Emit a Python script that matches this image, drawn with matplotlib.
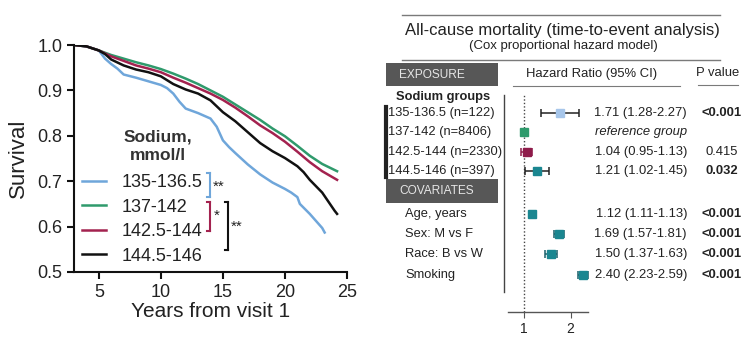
import matplotlib.pyplot as plt
import matplotlib.transforms as mtransforms
from matplotlib.lines import Line2D
from matplotlib.patches import Rectangle

plt.rcParams['font.family'] = ['Liberation Sans', 'DejaVu Sans']

# Kaplan-Meier style survival curves by sodium group
t_blue = [3, 4, 5, 5.5, 6, 6.5, 7, 8, 9, 10, 10.5, 11, 11.5, 12, 13, 14, 14.5, 15, 15.5, 16,
          17, 18, 19, 20, 20.5, 21, 21.2, 22, 23, 23.2]
s_blue = [1.0, 0.997, 0.988, 0.97, 0.958, 0.948, 0.935, 0.928, 0.92, 0.912, 0.905, 0.893, 0.875,
          0.86, 0.85, 0.838, 0.82, 0.79, 0.775, 0.762, 0.737, 0.715, 0.697, 0.683, 0.675, 0.665,
          0.65, 0.628, 0.597, 0.587]
t_green = [3, 4, 5, 6, 7, 8, 9, 10, 11, 12, 13, 14, 15, 16, 17, 18, 19, 20, 21, 22, 23, 24.2]
s_green = [1.0, 0.997, 0.988, 0.978, 0.97, 0.962, 0.955, 0.947, 0.937, 0.926, 0.914, 0.9, 0.886,
           0.869, 0.852, 0.835, 0.816, 0.799, 0.778, 0.756, 0.738, 0.722]
t_red = [3, 4, 5, 6, 7, 8, 9, 10, 11, 12, 13, 14, 15, 16, 17, 18, 19, 20, 21, 22, 23, 24.2]
s_red = [1.0, 0.997, 0.988, 0.975, 0.965, 0.955, 0.948, 0.94, 0.928, 0.917, 0.905, 0.893, 0.879,
         0.862, 0.843, 0.823, 0.806, 0.787, 0.765, 0.742, 0.722, 0.703]
t_black = [3, 4, 5, 5.5, 6, 7, 8, 9, 10, 11, 12, 13, 14, 15, 15.5, 16, 17, 18, 19, 20, 21, 21.5,
           22, 23, 23.5, 24, 24.2]
s_black = [1.0, 0.997, 0.988, 0.98, 0.968, 0.955, 0.946, 0.94, 0.931, 0.914, 0.902, 0.893, 0.878,
           0.852, 0.842, 0.832, 0.808, 0.784, 0.766, 0.751, 0.733, 0.72, 0.703, 0.675, 0.655,
           0.635, 0.628]
groups = ['135-136.5', '137-142', '142.5-144', '144.5-146']
colors = ['#6fa6da', '#2f9a6c', '#a3224f', '#111111']

# Cox model results
sodium_labels = ['135-136.5 (n=122)', '137-142 (n=8406)', '142.5-144 (n=2330)', '144.5-146 (n=397)']
sodium_hr = [1.71, 1.0, 1.04, 1.21]
sodium_lo = [1.28, 1.0, 0.95, 1.02]
sodium_hi = [2.27, 1.0, 1.13, 1.45]
sodium_text = ['1.71 (1.28-2.27)', 'reference group', '1.04 (0.95-1.13)', '1.21 (1.02-1.45)']
sodium_p = ['<0.001', '', '0.415', '0.032']
sodium_pbold = [True, False, False, True]
cov_labels = ['Age, years', 'Sex: M vs F', 'Race: B vs W', 'Smoking']
cov_hr = [1.12, 1.69, 1.50, 2.40]
cov_lo = [1.11, 1.57, 1.37, 2.23]
cov_hi = [1.13, 1.81, 1.63, 2.59]
cov_text = ['1.12 (1.11-1.13)', '1.69 (1.57-1.81)', '1.50 (1.37-1.63)', '2.40 (2.23-2.59)']
cov_p = ['<0.001', '<0.001', '<0.001', '<0.001']

W, H = 751, 340
fig = plt.figure(figsize=(W / 100, H / 100), dpi=100)


def fx(px):
    return px / W


def fy(py):
    return 1 - py / H


def hline(x0, x1, y, **kw):
    fig.add_artist(Line2D([fx(x0), fx(x1)], [fy(y), fy(y)], transform=fig.transFigure, **kw))


def vline(x, y0, y1, **kw):
    fig.add_artist(Line2D([fx(x), fx(x)], [fy(y0), fy(y1)], transform=fig.transFigure, **kw))


# ---- left: survival curves ----
ax = fig.add_axes([fx(74), fy(272), fx(347) - fx(74), fy(45) - fy(272)])
for t, s, c, g in zip([t_blue, t_green, t_red, t_black], [s_blue, s_green, s_red, s_black], colors, groups):
    ax.plot(t, s, color=c, lw=1.8, label=g)
ax.set_xlim(3, 25)
ax.set_ylim(0.5, 1.0)
ax.set_xticks([5, 10, 15, 20, 25])
ax.set_yticks([0.5, 0.6, 0.7, 0.8, 0.9, 1.0])
ax.set_yticklabels(['0.5', '0.6', '0.7', '0.8', '0.9', '1.0'])
ax.tick_params(labelsize=13, width=1.5, length=5, color='#111111', labelcolor='#222222')
for side in ['top', 'right']:
    ax.spines[side].set_visible(False)
for side in ['left', 'bottom']:
    ax.spines[side].set_linewidth(1.5)
    ax.spines[side].set_color('#111111')
ax.set_xlabel('Years from visit 1', fontsize=15, color='#222222', labelpad=1)
ax.set_ylabel('Survival', fontsize=16, color='#222222', labelpad=6)

leg = ax.legend(loc='upper left', bbox_to_anchor=(fx(82), fy(174)), bbox_transform=fig.transFigure,
                frameon=False, fontsize=13, handlelength=1.35, handletextpad=0.85,
                labelspacing=0.42, borderpad=0, borderaxespad=0)
for txt in leg.get_texts():
    txt.set_color('#222222')
fig.text(fx(158), fy(146), 'Sodium,\nmmol/l', ha='center', va='center', fontsize=12.5,
         fontweight='bold', color='#333333', linespacing=1.3)


# significance brackets
def bracket(x, y0, y1, color):
    vline(x, y0, y1, color=color, lw=1.5)
    hline(x - 3, x, y0, color=color, lw=1.5)
    hline(x - 3, x, y1, color=color, lw=1.5)


bracket(210, 173, 197, colors[0])
fig.text(fx(213), fy(187), '**', fontsize=11, va='center', ha='left', color='#222222')
bracket(210, 202, 231, colors[2])
fig.text(fx(214), fy(216), '*', fontsize=11, va='center', ha='left', color='#222222')
bracket(228, 202, 250, colors[3])
fig.text(fx(231), fy(227), '**', fontsize=11, va='center', ha='left', color='#222222')

# ---- right: forest plot ----
gray = '#7a7a7a'
hline(402, 720, 15, color=gray, lw=1)
hline(402, 720, 60, color=gray, lw=1)
fig.text(fx(562), fy(31), 'All-cause mortality (time-to-event analysis)', ha='center', va='center',
         fontsize=12, color='#222222')
fig.text(fx(563), fy(46), '(Cox proportional hazard model)', ha='center', va='center',
         fontsize=9.5, color='#222222')

for y0, y1, label in [(63, 86, 'EXPOSURE'), (179, 203, 'COVARIATES')]:
    fig.add_artist(Rectangle((fx(386), fy(y1)), fx(498) - fx(386), fy(y0) - fy(y1),
                             transform=fig.transFigure, facecolor='#575757', edgecolor='none'))
    fig.text(fx(399), fy((y0 + y1) / 2), label, ha='left', va='center', fontsize=8.6,
             color='#e6e6e6')

fig.text(fx(592), fy(74), 'Hazard Ratio (95% CI)', ha='center', va='center', fontsize=9.4,
         color='#222222')
hline(513, 680, 86, color=gray, lw=0.8)
fig.text(fx(718), fy(73), 'P value', ha='center', va='center', fontsize=9.4, color='#222222')
hline(698, 738, 85, color=gray, lw=0.8)
fig.text(fx(443), fy(97), 'Sodium groups', ha='center', va='center', fontsize=9.3,
         fontweight='bold', color='#222222')

sodium_rows = [0, 1, 2, 3]
cov_rows = [5.18, 6.2, 7.23, 8.3]
ax2 = fig.add_axes([fx(508), fy(312), fx(588) - fx(508), fy(95) - fy(312)])
ax2.set_xscale('log')
ax2.set_xlim(0.788, 2.59)
ax2.set_ylim(10.2, -0.92)
ax2.axvline(1, color='#444444', lw=1, ls=(0, (1, 1.5)))

sodium_mcolors = ['#a7c6ea', '#2f9a6c', '#8e1b4a', '#1a8690']
sodium_ecolors = ['#222222', '#2f9a6c', '#8e1b4a', '#222222']
for r, hr, lo, hi, mc, ec in zip(sodium_rows, sodium_hr, sodium_lo, sodium_hi, sodium_mcolors, sodium_ecolors):
    ax2.errorbar(hr, r, xerr=[[hr - lo], [hi - hr]], fmt='s', color=mc, ecolor=ec,
                 markersize=6, capsize=3, elinewidth=1.1, capthick=1.1, zorder=3)
for r, hr, lo, hi in zip(cov_rows, cov_hr, cov_lo, cov_hi):
    ax2.errorbar(hr, r, xerr=[[hr - lo], [hi - hr]], fmt='s', color='#1a8690', ecolor='#1a5f6a',
                 markersize=6, capsize=3, elinewidth=1.1, capthick=1.1, zorder=3)

ax2.set_xticks([1, 2])
ax2.set_xticklabels(['1', '2'])
ax2.xaxis.set_minor_locator(plt.NullLocator())
ax2.set_yticks([])
for side in ['top', 'right', 'left']:
    ax2.spines[side].set_visible(False)
ax2.spines['bottom'].set_color('#555555')
ax2.spines['bottom'].set_linewidth(1)
ax2.tick_params(axis='x', labelsize=10, length=4, color='#555555', labelcolor='#222222', pad=3)
ax2.patch.set_alpha(0)

tr = mtransforms.blended_transform_factory(fig.transFigure, ax2.transData)
fs_lab = 9.3
fs_val = 9.4
for r, lab, txt, p, b in zip(sodium_rows, sodium_labels, sodium_text, sodium_p, sodium_pbold):
    fig.text(fx(388), r, lab, transform=tr, ha='left', va='center', fontsize=fs_lab, color='#222222')
    fig.text(fx(687), r, txt, transform=tr, ha='right', va='center', fontsize=fs_val, color='#222222',
             style='italic' if txt == 'reference group' else 'normal')
    if p:
        fig.text(fx(722), r, p, transform=tr, ha='center', va='center', fontsize=fs_val,
                 fontweight='bold' if b else 'normal', color='#222222')
for r, lab, txt, p in zip(cov_rows, cov_labels, cov_text, cov_p):
    fig.text(fx(405), r, lab, transform=tr, ha='left', va='center', fontsize=fs_lab, color='#222222')
    fig.text(fx(687), r, txt, transform=tr, ha='right', va='center', fontsize=fs_val, color='#222222')
    fig.text(fx(722), r, p, transform=tr, ha='center', va='center', fontsize=fs_val,
             fontweight='bold', color='#222222')

vline(386, 107, 177, color='#222222', lw=3)
vline(504, 95, 292, color='#444444', lw=1)

fig.savefig('out.png', dpi=100)
